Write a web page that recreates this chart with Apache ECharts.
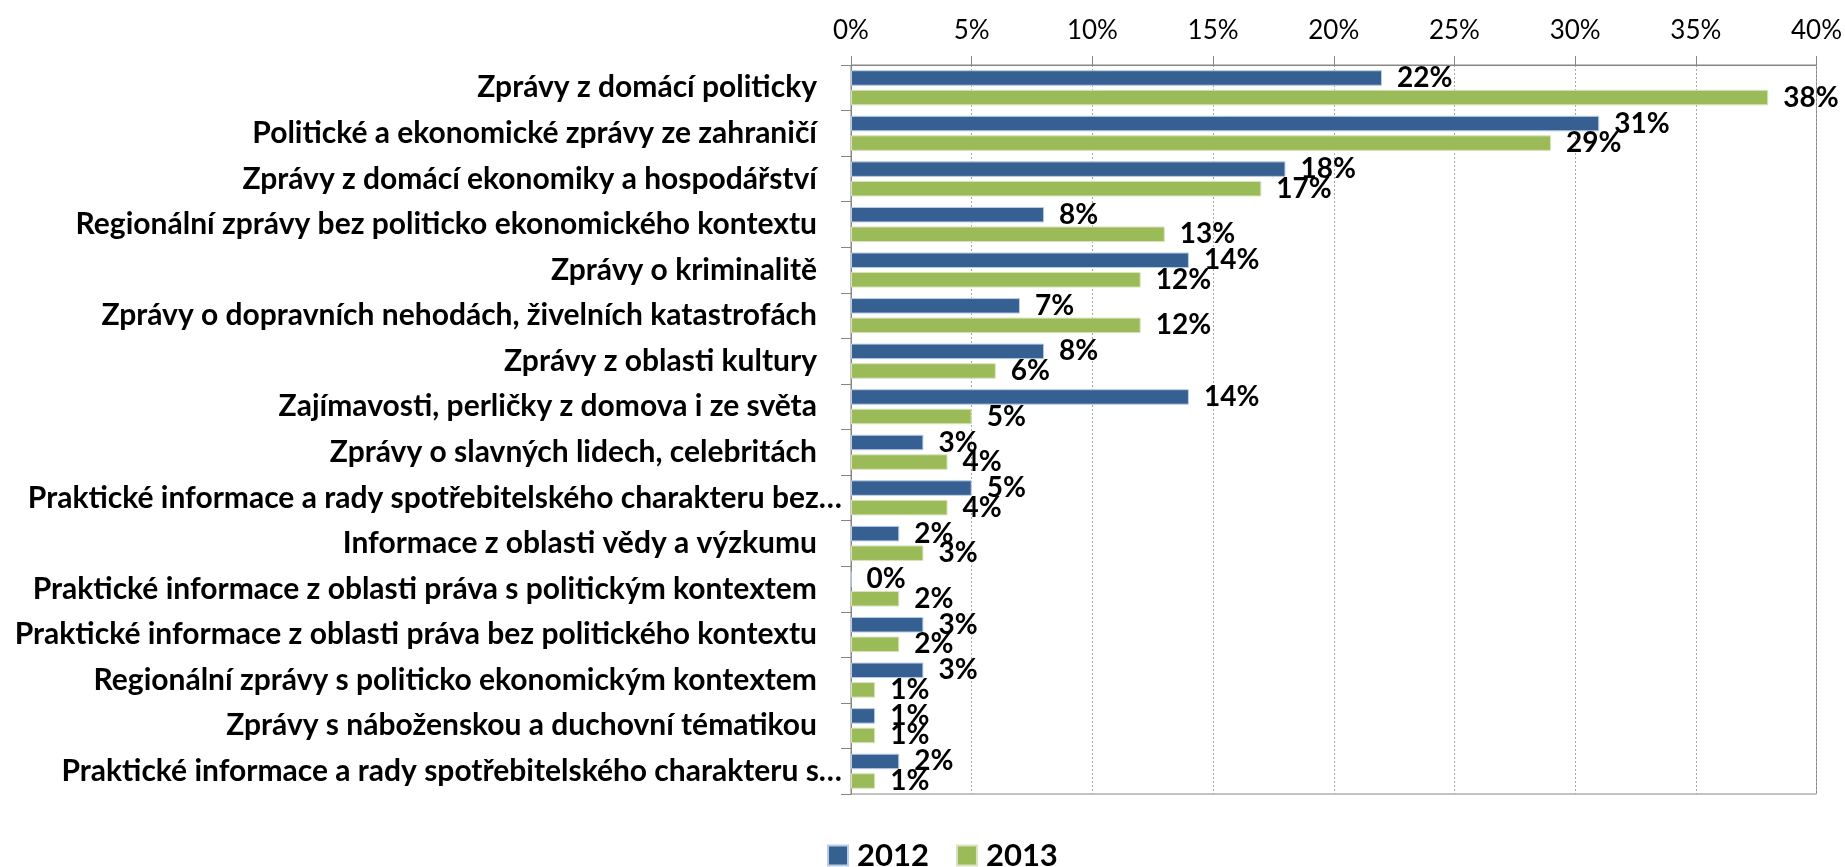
<!DOCTYPE html>
<html>
<head>
<meta charset="utf-8">
<script src="https://cdn.jsdelivr.net/npm/echarts@6/dist/echarts.min.js"></script>
<style>
html,body{margin:0;padding:0;background:#fff;}
#chart{width:1845px;height:867px;}
</style>
</head>
<body>
<div id="chart"></div>
<script>
const categories = [
  'Zprávy z domácí politicky',
  'Politické a ekonomické zprávy ze zahraničí',
  'Zprávy z domácí ekonomiky a hospodářství',
  'Regionální zprávy bez politicko ekonomického kontextu',
  'Zprávy o kriminalitě',
  'Zprávy o dopravních nehodách, živelních katastrofách',
  'Zprávy z oblasti kultury',
  'Zajímavosti, perličky z domova i ze světa',
  'Zprávy o slavných lidech, celebritách',
  'Praktické informace a rady spotřebitelského charakteru bez…',
  'Informace z oblasti vědy a výzkumu',
  'Praktické informace z oblasti práva s politickým kontextem',
  'Praktické informace z oblasti práva bez politického kontextu',
  'Regionální zprávy s politicko ekonomickým kontextem',
  'Zprávy s náboženskou a duchovní tématikou',
  'Praktické informace a rady spotřebitelského charakteru s…'
];
const seriesNames = ['2012', '2013'];
const values2012 = [22, 31, 18, 8, 14, 7, 8, 14, 3, 5, 2, 0, 3, 3, 1, 2];
const values2013 = [38, 29, 17, 13, 12, 12, 6, 5, 4, 4, 3, 2, 2, 1, 1, 1];
const axisMin = 0, axisMax = 40, axisStep = 5;

const FONT = 'Lato';
const chart = echarts.init(document.getElementById('chart'), null, {renderer: 'canvas'});

const labelStyle = {
  show: true,
  position: 'right',
  distance: 15,
  formatter: p => p.value + '%',
  fontFamily: FONT,
  fontWeight: 'bold',
  fontSize: 28,
  color: '#000'
};

chart.setOption({
  animation: false,
  backgroundColor: '#fff',
  grid: {
    left: 851, right: 27, top: 65, bottom: 73,
    show: true, borderColor: '#868686', borderWidth: 1, backgroundColor: 'transparent'
  },
  legend: {
    data: seriesNames,
    left: 822, top: 835,
    itemWidth: 20, itemHeight: 20, itemGap: 27,
    icon: 'rect',
    formatter: '{a|{name}}',
    textStyle: {
      fontFamily: FONT, fontWeight: 'bold', fontSize: 31, color: '#000',
      rich: {a: {fontFamily: FONT, fontWeight: 'bold', fontSize: 31, color: '#000', padding: [0, 0, 0, 4]}}
    }
  },
  xAxis: {
    type: 'value', position: 'top',
    min: axisMin, max: axisMax, interval: axisStep,
    axisLine: {show: true, lineStyle: {color: '#868686', width: 1}},
    axisTick: {show: true, length: 9, lineStyle: {color: '#868686'}},
    axisLabel: {formatter: '{value}%', fontFamily: FONT, fontSize: 26, color: '#000', margin: 21},
    splitLine: {show: true, lineStyle: {color: '#A6A6A6', type: [2, 2], width: 1}}
  },
  yAxis: {
    type: 'category', inverse: true, data: categories,
    axisLine: {show: true, lineStyle: {color: '#868686', width: 1}},
    axisTick: {show: true, length: 10, lineStyle: {color: '#868686'}},
    axisLabel: {
      margin: 9,
      formatter: v => v.endsWith('…') ? '{t|' + v + '}' : '{n|' + v + '}',
      rich: {
        n: {fontFamily: FONT, fontWeight: 'bold', fontSize: 30, color: '#000', padding: [0, 25, 0, 0]},
        t: {fontFamily: FONT, fontWeight: 'bold', fontSize: 30, color: '#000'}
      }
    }
  },
  series: [
    {
      name: seriesNames[0], type: 'bar', data: values2012,
      barCategoryGap: '23%', barGap: '26%',
      itemStyle: {color: '#376092', borderColor: '#B9CDE5', borderWidth: 1},
      label: labelStyle
    },
    {
      name: seriesNames[1], type: 'bar', data: values2013,
      barCategoryGap: '23%', barGap: '26%',
      itemStyle: {color: '#9BBB59', borderColor: '#D7E4BD', borderWidth: 1},
      label: labelStyle
    }
  ]
});
</script>
</body>
</html>
